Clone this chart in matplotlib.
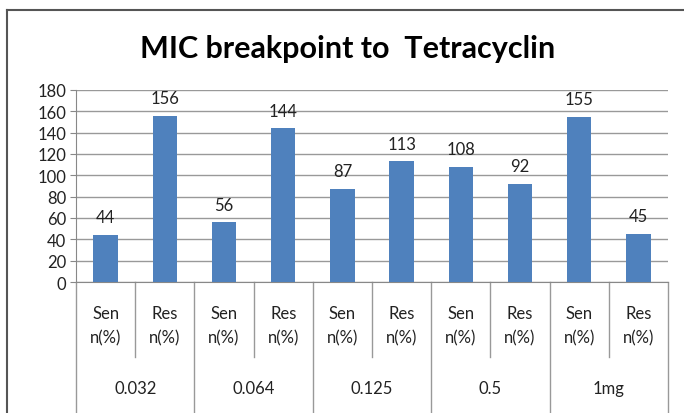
import matplotlib
matplotlib.use("Agg")
import matplotlib.pyplot as plt
from matplotlib.lines import Line2D

plt.rcParams['font.family'] = ['Lato', 'DejaVu Sans']

groups = ["0.032", "0.064", "0.125", "0.5", "1mg"]
sub_labels = ["Sen\nn(%)", "Res\nn(%)"]
values = [44, 156, 56, 144, 87, 113, 108, 92, 155, 45]
yticks = [0, 20, 40, 60, 80, 100, 120, 140, 160, 180]

W, H = 684, 414
fig = plt.figure(figsize=(W / 100, H / 100), dpi=100)
fig.patch.set_facecolor('white')

# outer chart border (left and top visible)
fig.add_artist(Line2D([7 / W, 7 / W], [0, 1 - 11 / H], color='#555555', lw=1.5, transform=fig.transFigure))
fig.add_artist(Line2D([7 / W, 1], [1 - 11 / H, 1 - 11 / H], color='#555555', lw=1.5, transform=fig.transFigure))

x0, x1 = 76, 668
ytop, ybot = 91, 283
ax = fig.add_axes([x0 / W, 1 - ybot / H, (x1 - x0) / W, (ybot - ytop) / H])

n = len(values)
xs = list(range(n))
ax.bar(xs, values, width=0.41, color='#4F81BD', zorder=3)
for x, v in zip(xs, values):
    ax.annotate(str(v), (x, v), xytext=(0, 7), textcoords='offset points',
                ha='center', va='bottom', fontsize=12, color='#222222')

ax.set_xlim(-0.5, n - 0.5)
ax.set_ylim(0, 180)
ax.set_yticks(yticks)
ax.tick_params(axis='y', labelsize=12, length=4, color='#888888', labelcolor='#222222', pad=3)
ax.set_xticks([])
ax.yaxis.grid(True, color='#999999', lw=1, zorder=0)
for s in ['top', 'right']:
    ax.spines[s].set_visible(False)
ax.spines['left'].set_color('#888888')
ax.spines['bottom'].set_color('#888888')

axh = ybot - ytop
sub_y = -(358 - ybot) / axh
grp_y = -(414 - ybot) / axh
trans = ax.get_xaxis_transform()
for i in range(n + 1):
    xb = i - 0.5
    yend = grp_y if i % 2 == 0 else sub_y
    ax.add_line(Line2D([xb, xb], [0, yend], color='#999999', lw=1, transform=trans, clip_on=False))
for i in range(n):
    ax.text(i, -(326 - ybot) / axh, sub_labels[i % 2], transform=trans, ha='center', va='center',
            fontsize=12, color='#222222', linespacing=1.65)
for g, name in enumerate(groups):
    ax.text(2 * g + 0.5, -(389 - ybot) / axh, name, transform=trans, ha='center', va='center',
            fontsize=12, color='#222222')

fig.text(348 / W, 1 - 58 / H, "MIC breakpoint to  Tetracyclin", ha='center', va='baseline',
         fontsize=22, fontweight='bold', color='black')

fig.savefig("out.png", dpi=100)
